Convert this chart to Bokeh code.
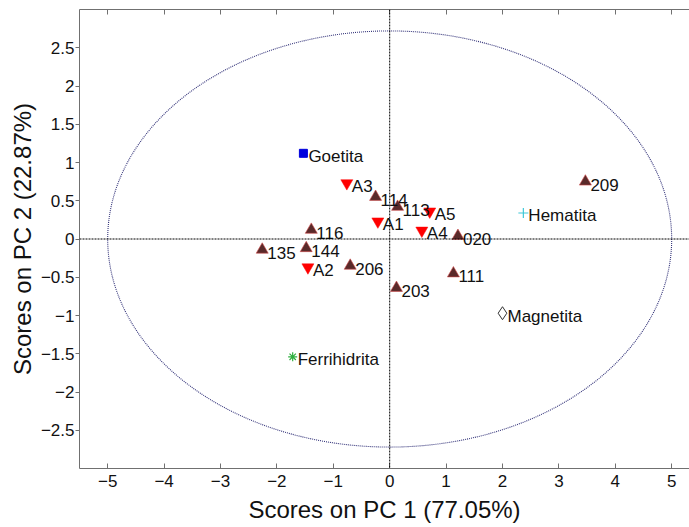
from bokeh.plotting import figure
from bokeh.models import Span, LinearAxis, FixedTicker, Range1d, ColumnDataSource
from bokeh.core.properties import value
from bokeh.embed import file_html
from bokeh.resources import INLINE

# --- data ---
samp_names = ["114", "113", "020", "116", "135", "144", "206", "203", "111", "209"]
samp_x = [-0.25, 0.14, 1.21, -1.39, -2.26, -1.48, -0.70, 0.12, 1.13, 3.47]
samp_y = [0.55, 0.42, 0.04, 0.12, -0.14, -0.12, -0.35, -0.64, -0.45, 0.75]

a_names = ["A1", "A2", "A3", "A4", "A5"]
a_x = [-0.21, -1.45, -0.76, 0.57, 0.71]
a_y = [0.23, -0.37, 0.73, 0.11, 0.36]

goe = ("Goetita", -1.53, 1.12)
hem = ("Hematita", 2.37, 0.34)
mag = ("Magnetita", 2.00, -0.97)
fer = ("Ferrihidrita", -1.72, -1.54)

ellipse_a = 5.0   # 95% limit semi-axis PC1
ellipse_b = 2.72  # 95% limit semi-axis PC2

x_ticks = [-5, -4, -3, -2, -1, 0, 1, 2, 3, 4, 5]
y_ticks = [-2.5, -2, -1.5, -1, -0.5, 0, 0.5, 1, 1.5, 2, 2.5]

FONT = "Liberation Sans"

p = figure(width=689, height=525,
           x_range=Range1d(-5.5, 5.316), y_range=Range1d(-3, 3),
           output_backend="svg", toolbar_location=None,
           min_border_left=79, min_border_right=0, min_border_top=9, min_border_bottom=56,
           x_axis_label="Scores on PC 1 (77.05%)", y_axis_label="Scores on PC 2 (22.87%)")
p.outline_line_color = None
p.background_fill_color = "white"
p.border_fill_color = "white"
p.xgrid.visible = False
p.ygrid.visible = False

for ax in (p.xaxis[0], p.yaxis[0]):
    ax.axis_label_text_font = FONT
    ax.axis_label_text_font_size = "24px"
    ax.axis_label_text_font_style = "normal"
    ax.axis_label_text_color = "#111111"
    ax.major_label_text_font = FONT
    ax.major_label_text_font_size = "17px"
    ax.major_label_text_color = "#111111"
    ax.axis_line_color = "#707070"
    ax.major_tick_line_color = "#707070"
    ax.minor_tick_line_color = None

p.xaxis[0].ticker = FixedTicker(ticks=x_ticks)
p.xaxis[0].major_tick_in = 5
p.xaxis[0].major_tick_out = 0
p.xaxis[0].major_label_standoff = 6
p.xaxis[0].axis_label_standoff = 6
p.yaxis[0].ticker = FixedTicker(ticks=y_ticks)
p.yaxis[0].major_tick_in = 0
p.yaxis[0].major_tick_out = 4
p.yaxis[0].major_label_standoff = 1
p.yaxis[0].axis_label_standoff = 2

top = LinearAxis(ticker=FixedTicker(ticks=x_ticks),
                 major_label_overrides={t: "" for t in x_ticks},
                 major_tick_in=5, major_tick_out=0, minor_tick_line_color=None,
                 axis_line_color="#707070", major_tick_line_color="#707070",
                 major_label_standoff=0)
p.add_layout(top, "above")

# 95% confidence ellipse
p.ellipse(x=0, y=0, width=2 * ellipse_a, height=2 * ellipse_b, fill_color=None,
          line_color="#34347a", line_dash="1 1", line_width=1.1)

# zero lines
p.add_layout(Span(location=0, dimension="height", line_color="black", line_dash="2 1", line_width=1))
p.add_layout(Span(location=0, dimension="width", line_color="black", line_dash="2 1", line_width=1))

src_s = ColumnDataSource(dict(x=samp_x, y=samp_y, t=samp_names))
src_a = ColumnDataSource(dict(x=a_x, y=a_y, t=a_names))

p.scatter("x", "y", source=src_s, marker="triangle", size=12,
          fill_color="#5a2a2a", line_color="#d04848", line_width=0.6)
p.scatter("x", "y", source=src_a, marker="inverted_triangle", size=12,
          fill_color="#ff0000", line_color="#ff0000", line_width=0.5)
p.scatter([goe[1]], [goe[2]], marker="square", size=8, fill_color="#0000dd", line_color="#0000dd")
p.scatter([hem[1]], [hem[2]], marker="cross", size=10, line_color="#40c8d8", line_width=1.2)
p.scatter([mag[1]], [mag[2]], marker="diamond", size=13, fill_color=None, line_color="#333333", line_width=1)
p.scatter([fer[1]], [fer[2]], marker="asterisk", size=9, line_color="#30b040", line_width=1.2)

src_std = ColumnDataSource(dict(x=[goe[1], hem[1], mag[1], fer[1]],
                                y=[goe[2], hem[2], mag[2], fer[2]],
                                t=[goe[0], hem[0], mag[0], fer[0]]))

for src in (src_s, src_a, src_std):
    p.text("x", "y", text="t", source=src, x_offset=5, y_offset=3,
           text_font=value(FONT), text_font_size="17px", text_color="#111111",
           text_baseline="middle", text_align="left")

open("out.html", "w").write(file_html(p, INLINE))
